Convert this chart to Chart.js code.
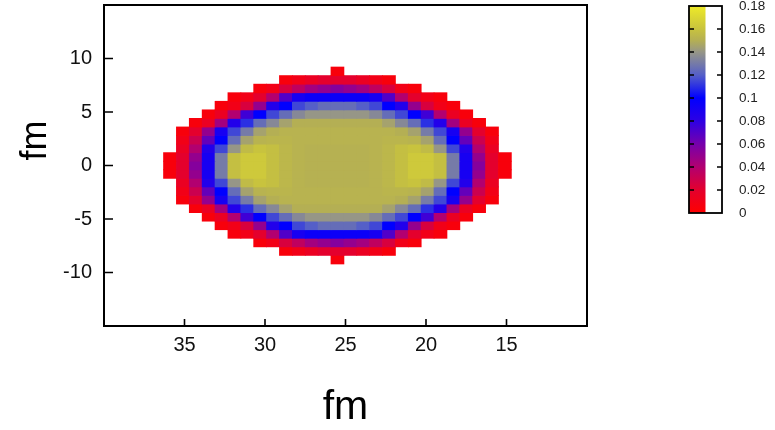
<!DOCTYPE html>
<html>
<head>
<meta charset="utf-8">
<script src="https://cdn.jsdelivr.net/npm/chart.js@4.4.1/dist/chart.umd.min.js"></script>
<style>
    body { margin: 0; background: #fff; }
    #wrap { position: relative; width: 775px; height: 430px; overflow: hidden; }
    #main { position: absolute; left: 0; top: 0; }
    #barra { position: absolute; left: 680px; top: -4px; }
</style>
</head>
<body>
<div id="wrap">
    <canvas id="main" width="775" height="430"></canvas>
    <canvas id="barra" width="95" height="234"></canvas>
</div>
<script>
// centros das células (fm)
const colX = [35.9, 35.1, 34.3, 33.5, 32.7, 31.9, 31.1, 30.3, 29.5, 28.7, 27.9, 27.1, 26.3, 25.5,
    24.7, 23.9, 23.1, 22.3, 21.5, 20.7, 19.9, 19.1, 18.3, 17.5, 16.7, 15.9, 15.1];
const rowY = [8.8, 8.0, 7.2, 6.4, 5.6, 4.8, 4.0, 3.2, 2.4, 1.6, 0.8, 0,
    -0.8, -1.6, -2.4, -3.2, -4.0, -4.8, -5.6, -6.4, -7.2, -8.0, -8.8];
const xTicks = [35, 30, 25, 20, 15];
const yTicks = [-10, -5, 0, 5, 10];
const barTicks = [0, 0.02, 0.04, 0.06, 0.08, 0.1, 0.12, 0.14, 0.16, 0.18];

// densidade (fm^-3), uma linha por rowY, 0 = sem célula
const density = [
    [0,0,0,0,0,0,0,0,0,0,0,0,0,.005,0,0,0,0,0,0,0,0,0,0,0,0,0],
    [0,0,0,0,0,0,0,0,0,.005,.01,.015,.02,.02,.02,.015,.01,.005,0,0,0,0,0,0,0,0,0],
    [0,0,0,0,0,0,0,.005,.01,.025,.035,.045,.05,.055,.05,.045,.035,.025,.01,.005,0,0,0,0,0,0,0],
    [0,0,0,0,0,.005,.01,.02,.04,.07,.09,.095,.095,.095,.095,.095,.09,.07,.04,.02,.01,.005,0,0,0,0,0],
    [0,0,0,0,.005,.01,.025,.05,.085,.10,.115,.12,.125,.125,.125,.12,.115,.10,.085,.05,.025,.01,.005,0,0,0,0],
    [0,0,0,.005,.015,.04,.075,.10,.115,.125,.135,.14,.14,.14,.14,.14,.135,.125,.115,.10,.075,.04,.015,.005,0,0,0],
    [0,0,.005,.015,.045,.085,.11,.125,.135,.145,.15,.15,.15,.15,.15,.15,.15,.145,.135,.125,.11,.085,.045,.015,.005,0,0],
    [0,.005,.02,.05,.09,.115,.13,.145,.15,.152,.152,.152,.152,.152,.152,.152,.152,.152,.15,.145,.13,.115,.09,.05,.02,.005,0],
    [0,.01,.03,.065,.10,.125,.145,.152,.153,.153,.152,.152,.152,.152,.152,.152,.152,.153,.153,.152,.145,.125,.10,.065,.03,.01,0],
    [0,.015,.04,.085,.115,.14,.156,.16,.158,.154,.152,.151,.151,.151,.151,.151,.152,.154,.158,.16,.156,.14,.115,.085,.04,.015,0],
    [.005,.02,.05,.09,.13,.158,.163,.163,.158,.154,.152,.151,.151,.151,.151,.151,.152,.154,.158,.163,.163,.158,.13,.09,.05,.02,.005],
    [.005,.02,.055,.09,.13,.158,.163,.163,.158,.154,.152,.151,.151,.151,.151,.151,.152,.154,.158,.163,.163,.158,.13,.09,.055,.02,.005],
    [.005,.02,.05,.09,.13,.158,.163,.163,.158,.154,.152,.151,.151,.151,.151,.151,.152,.154,.158,.163,.163,.158,.13,.09,.05,.02,.005],
    [0,.015,.04,.085,.115,.14,.156,.16,.158,.154,.152,.151,.151,.151,.151,.151,.152,.154,.158,.16,.156,.14,.115,.085,.04,.015,0],
    [0,.01,.03,.065,.10,.125,.145,.152,.153,.153,.152,.152,.152,.152,.152,.152,.152,.153,.153,.152,.145,.125,.10,.065,.03,.01,0],
    [0,.005,.02,.05,.09,.115,.13,.145,.15,.152,.152,.152,.152,.152,.152,.152,.152,.152,.15,.145,.13,.115,.09,.05,.02,.005,0],
    [0,0,.005,.015,.045,.085,.11,.125,.135,.145,.15,.15,.15,.15,.15,.15,.15,.145,.135,.125,.11,.085,.045,.015,.005,0,0],
    [0,0,0,.005,.015,.04,.075,.10,.115,.125,.135,.14,.14,.14,.14,.14,.135,.125,.115,.10,.075,.04,.015,.005,0,0,0],
    [0,0,0,0,.005,.01,.025,.05,.085,.10,.115,.12,.125,.125,.125,.12,.115,.10,.085,.05,.025,.01,.005,0,0,0,0],
    [0,0,0,0,0,.005,.01,.02,.04,.07,.09,.095,.095,.095,.095,.095,.09,.07,.04,.02,.01,.005,0,0,0,0,0],
    [0,0,0,0,0,0,0,.005,.01,.025,.035,.045,.05,.055,.05,.045,.035,.025,.01,.005,0,0,0,0,0,0,0],
    [0,0,0,0,0,0,0,0,0,.005,.01,.015,.02,.02,.02,.015,.01,.005,0,0,0,0,0,0,0,0,0],
    [0,0,0,0,0,0,0,0,0,0,0,0,0,.005,0,0,0,0,0,0,0,0,0,0,0,0,0]
];

// escala de cores (vermelho -> azul -> cinza -> amarelo)
const cmap = [
    [0.00, [255, 0, 0]],
    [0.02, [228, 0, 45]],
    [0.04, [178, 0, 112]],
    [0.06, [118, 0, 172]],
    [0.08, [45, 0, 228]],
    [0.10, [0, 0, 255]],
    [0.12, [85, 95, 200]],
    [0.14, [150, 150, 135]],
    [0.15, [180, 175, 84]],
    [0.16, [200, 195, 62]],
    [0.18, [238, 234, 40]]
];
const vmax = 0.18;
const cell = 0.8;
const fonte = 'Liberation Sans, Arial, Helvetica, sans-serif';

function cor(v) {
    for (let i = 1; i < cmap.length; i++) {
        if (v <= cmap[i][0]) {
            const [v0, c0] = cmap[i - 1];
            const [v1, c1] = cmap[i];
            const t = (v - v0) / (v1 - v0);
            const c = c0.map((a, k) => Math.round(a + (c1[k] - a) * t));
            return 'rgb(' + c.join(',') + ')';
        }
    }
    return 'rgb(' + cmap[cmap.length - 1][1].join(',') + ')';
}

// um dataset por linha de células
const datasets = rowY.map((y, r) => {
    const pts = [];
    const cols = [];
    density[r].forEach((v, c) => {
        if (v > 0) {
            pts.push({ x: colX[c], y: [y - cell / 2, y + cell / 2] });
            cols.push(cor(v));
        }
    });
    return {
        data: pts,
        backgroundColor: cols,
        borderWidth: 0,
        grouped: false,
        barPercentage: 1,
        categoryPercentage: 1,
        inflateAmount: 0.4
    };
});

// moldura e marcas internas dos eixos
const moldura = {
    id: 'moldura',
    afterDraw(chart) {
        const { ctx, chartArea: a, scales } = chart;
        ctx.save();
        ctx.strokeStyle = '#000';
        ctx.lineWidth = 2;
        ctx.strokeRect(a.left, a.top, a.right - a.left, a.bottom - a.top);
        ctx.lineWidth = 1.6;
        ctx.beginPath();
        xTicks.forEach(v => {
            const px = scales.x.getPixelForValue(v);
            ctx.moveTo(px, a.bottom);
            ctx.lineTo(px, a.bottom - 7);
        });
        yTicks.forEach(v => {
            const py = scales.y.getPixelForValue(v);
            ctx.moveTo(a.left, py);
            ctx.lineTo(a.left + 9, py);
        });
        ctx.stroke();
        ctx.restore();
    }
};

new Chart(document.getElementById('main'), {
    type: 'bar',
    data: { datasets: datasets },
    options: {
        responsive: false,
        animation: false,
        devicePixelRatio: 1,
        events: [],
        layout: { padding: { left: 0, top: 5, right: 188, bottom: 0 } },
        plugins: { legend: { display: false }, tooltip: { enabled: false } },
        scales: {
            x: {
                type: 'linear',
                reverse: true,
                min: 10,
                max: 40,
                offset: false,
                grid: { display: false, drawTicks: false, offset: false },
                border: { display: false },
                afterBuildTicks: s => { s.ticks = xTicks.map(v => ({ value: v })); },
                afterFit: s => { s.height = 104; s.paddingLeft = 0; s.paddingRight = 0; },
                ticks: { padding: 7, color: '#111', font: { family: fonte, size: 20 }, callback: v => String(v) },
                title: { display: true, text: 'fm', color: '#000', padding: { top: 0, bottom: 2 },
                    font: { family: fonte, size: 41, lineHeight: 1 } }
            },
            y: {
                type: 'linear',
                min: -15,
                max: 15,
                grid: { display: false, drawTicks: false },
                border: { display: false },
                afterBuildTicks: s => { s.ticks = yTicks.map(v => ({ value: v })); },
                afterFit: s => { s.width = 104; s.paddingTop = 0; s.paddingBottom = 0; },
                ticks: { padding: 12, color: '#111', font: { family: fonte, size: 20 }, callback: v => String(v) },
                title: { display: true, text: '     fm', color: '#000', padding: { top: 18, bottom: 0 },
                    font: { family: fonte, size: 36, lineHeight: 1 } }
            }
        }
    },
    plugins: [moldura]
});

// barra de cores
const marcasBarra = {
    id: 'marcasBarra',
    afterDraw(chart) {
        const { ctx, chartArea: a, scales } = chart;
        ctx.save();
        ctx.strokeStyle = '#000';
        ctx.lineWidth = 1.6;
        ctx.beginPath();
        barTicks.slice(1, -1).forEach(v => {
            const py = scales.y.getPixelForValue(v);
            ctx.moveTo(a.left, py);
            ctx.lineTo(a.left + 5, py);
            ctx.moveTo(a.right, py);
            ctx.lineTo(a.right - 5, py);
        });
        ctx.stroke();
        ctx.lineWidth = 1.8;
        ctx.strokeRect(a.left, a.top, a.right - a.left, a.bottom - a.top);
        ctx.restore();
    }
};

new Chart(document.getElementById('barra'), {
    type: 'bar',
    data: {
        labels: [''],
        datasets: [{
            data: [[0, vmax]],
            backgroundColor(c) {
                const ch = c.chart;
                if (!ch.chartArea) return '#f00';
                const y = ch.scales.y;
                const g = ch.ctx.createLinearGradient(0, y.getPixelForValue(0), 0, y.getPixelForValue(vmax));
                cmap.forEach(([v, rgb]) => g.addColorStop(v / vmax, 'rgb(' + rgb.join(',') + ')'));
                return g;
            },
            borderWidth: 0,
            barPercentage: 1,
            categoryPercentage: 1,
            inflateAmount: 0
        }]
    },
    options: {
        responsive: false,
        animation: false,
        devicePixelRatio: 1,
        events: [],
        layout: { padding: { left: 9, top: 10, right: 0, bottom: 17 } },
        plugins: { legend: { display: false }, tooltip: { enabled: false } },
        scales: {
            x: { display: false, offset: false },
            y: {
                position: 'right',
                min: 0,
                max: vmax,
                grid: { display: false, drawTicks: false },
                border: { display: false },
                afterBuildTicks: s => { s.ticks = barTicks.map(v => ({ value: v })); },
                afterFit: s => { s.width = 53; s.paddingTop = 0; s.paddingBottom = 0; },
                ticks: { padding: 17, color: '#222', font: { family: fonte, size: 13.5 }, callback: v => String(v) }
            }
        }
    },
    plugins: [marcasBarra]
});
</script>
</body>
</html>
